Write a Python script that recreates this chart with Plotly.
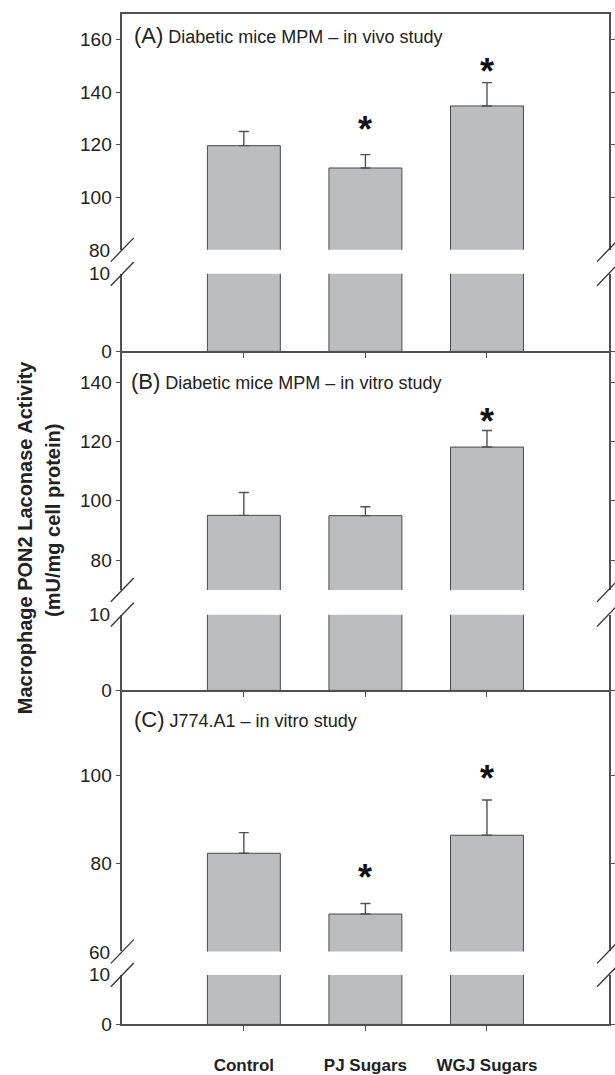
import plotly.graph_objects as go

# ---------------- data ----------------
categories = ["Control", "PJ Sugars", "WGJ Sugars"]

panel_titles = ["(A)", "(B)", "(C)"]
panel_texts = ["Diabetic mice MPM – in vivo study",
               "Diabetic mice MPM – in vitro study",
               "J774.A1 – in vitro study"]

means_A = [119.6, 111.1, 134.7]
errs_A = [5.4, 5.1, 8.9]
stars_A = [None, 128.7, 151.0]

means_B = [95.1, 95.0, 118.1]
errs_B = [7.7, 3.0, 5.6]
stars_B = [None, None, 129.4]

means_C = [82.3, 68.5, 86.4]
errs_C = [4.7, 2.4, 8.0]
stars_C = [None, 78.6, 101.1]

# axis ranges (upper segment / lower segment) and ticks
upper_ranges = [[80, 169.75], [70, 150.33], [60, 119.3]]
upper_ticks = [[100, 120, 140, 160], [80, 100, 120, 140], [80, 100]]
break_labels_upper = ["80", "", "60"]
lower_ranges = [[0, 10], [0, 10], [0, 10]]
lower_ticks = [[0], [0], [0]]
break_labels_lower = ["10", "10", "10"]

y_title_lines = ["Macrophage PON2 Laconase Activity", "(mU/mg cell protein)"]

# ---------------- layout geometry (pixels) ----------------
W, H = 615, 1075
X_LEFT, X_RIGHT = 122.7, 610.5
# (top, bottom) pixel rows of each segment
upper_px = [(14, 252.3), (355, 596), (697.5, 961.3)]
lower_px = [(276.7, 355), (621, 697.5), (985, 1035)]

FONT = "Liberation Sans, Arial, Helvetica, sans-serif"
AX_COL = "#505050"
BAR_FILL = "#bcbdc0"
BAR_LINE = "#4a4a4a"
TICK_SIZE = 19


def pdom(top, bottom):
    return [1 - bottom / H, 1 - top / H]


xdom = [X_LEFT / W, X_RIGHT / W]

fig = go.Figure()
means_all = [means_A, means_B, means_C]
errs_all = [errs_A, errs_B, errs_C]
stars_all = [stars_A, stars_B, stars_C]

layout = dict(
    width=W, height=H,
    margin=dict(l=0, r=0, t=0, b=0),
    paper_bgcolor="white", plot_bgcolor="rgba(0,0,0,0)",
    showlegend=False,
    font=dict(family=FONT, size=18, color="#222"),
)

annotations = []
shapes = []

for p in range(3):
    iu = 2 * p + 1
    il = 2 * p + 2
    xu = "x" if iu == 1 else f"x{iu}"
    yu = "y" if iu == 1 else f"y{iu}"
    xl = f"x{il}"
    yl = f"y{il}"

    # upper segment bars with error bars
    fig.add_trace(go.Bar(
        x=categories, y=means_all[p], xaxis=xu, yaxis=yu,
        marker=dict(color=BAR_FILL, line=dict(color=BAR_LINE, width=1)),
        error_y=dict(type="data", symmetric=False, array=errs_all[p],
                     arrayminus=[0] * 3, color=AX_COL, thickness=1.4, width=5),
        width=0.6,
    ))
    # lower segment bars
    fig.add_trace(go.Bar(
        x=categories, y=means_all[p], xaxis=xl, yaxis=yl,
        marker=dict(color=BAR_FILL, line=dict(color=BAR_LINE, width=1)),
        width=0.6,
    ))

    ut, ub = upper_px[p]
    lt, lb = lower_px[p]

    ykey_u = "yaxis" if iu == 1 else f"yaxis{iu}"
    xkey_u = "xaxis" if iu == 1 else f"xaxis{iu}"
    common_y = dict(ticks="outside", ticklen=5, tickwidth=1.2,
                    tickcolor=AX_COL, showline=True, linecolor=AX_COL,
                    linewidth=1.5, mirror="ticks", showgrid=False,
                    zeroline=False,
                    tickfont=dict(size=TICK_SIZE, color="#222"))
    layout[ykey_u] = dict(domain=pdom(ut, ub), range=upper_ranges[p],
                          anchor=xu, tickvals=upper_ticks[p], **common_y)
    layout[f"yaxis{il}"] = dict(domain=pdom(lt, lb), range=lower_ranges[p],
                                anchor=xl, tickvals=lower_ticks[p], **common_y)

    xu_ax = dict(domain=xdom, range=[-1, 3], anchor=yu, type="category",
                 showgrid=False, zeroline=False, showticklabels=False,
                 ticks="")
    if p == 0:
        xu_ax.update(showline=True, side="top", linecolor=AX_COL, linewidth=1.5)
    else:
        xu_ax.update(showline=False)
    layout[xkey_u] = xu_ax
    xl_ax = dict(domain=xdom, range=[-1, 3], anchor=yl, type="category",
                 showgrid=False, zeroline=False, showline=True,
                 linecolor=AX_COL, linewidth=1.5, ticks="outside", ticklen=5,
                 tickwidth=1.2, tickcolor=AX_COL,
                 showticklabels=(p == 2))
    if p == 2:
        xl_ax.update(tickfont=dict(size=17, color="#222",
                                   family=FONT, weight="bold"),
                     ticklabelstandoff=19)
    layout[f"xaxis{il}"] = xl_ax

    # break labels next to the break
    if break_labels_upper[p]:
        annotations.append(dict(
            xref="paper", yref="paper", x=X_LEFT / W, y=1 - ub / H,
            xanchor="right", yanchor="middle", xshift=-10, yshift=-1,
            text=break_labels_upper[p], showarrow=False,
            font=dict(size=TICK_SIZE, color="#222")))
    annotations.append(dict(
        xref="paper", yref="paper", x=X_LEFT / W, y=1 - lt / H,
        xanchor="right", yanchor="middle", xshift=-10,
        text=break_labels_lower[p], showarrow=False,
        font=dict(size=TICK_SIZE, color="#222")))

    # break slashes on left and right axes
    for xc in (X_LEFT, X_RIGHT):
        for yc in (ub, lt):
            shapes.append(dict(
                type="line", xref="paper", yref="paper",
                x0=(xc - 11.5) / W, y0=1 - (yc + 12) / H,
                x1=(xc + 11.5) / W, y1=1 - (yc - 12) / H,
                line=dict(color="#333", width=1.3)))

    # significance stars
    for ci, sy in enumerate(stars_all[p]):
        if sy is None:
            continue
        annotations.append(dict(
            xref=xu, yref=yu, x=categories[ci], y=sy,
            text="<b>*</b>", showarrow=False, yshift=-8,
            font=dict(size=36, color="#111")))

# panel titles
title_pos = [(132, 36), (129, 385), (132, 727)]
for p in range(3):
    tx, ty = title_pos[p]
    annotations.append(dict(
        xref="paper", yref="paper", x=tx / W, y=1 - ty / H,
        xanchor="left", yanchor="middle", showarrow=False,
        text=f"<span style='font-size:22px'>{panel_titles[p]}</span> {panel_texts[p]}",
        font=dict(size=18, color="#222")))

# y-axis title (two rotated lines)
title_line_pos = [(25, 362), (53, 426)]
for (lx, ltop), txt in zip(title_line_pos, y_title_lines):
    annotations.append(dict(
        xref="paper", yref="paper", x=lx / W, y=1 - ltop / H,
        xanchor="center", yanchor="top", textangle=-90, showarrow=False,
        text=f"<b>{txt}</b>", font=dict(size=20, color="#222")))

layout["annotations"] = annotations
layout["shapes"] = shapes
fig.update_layout(**layout)

fig.write_html("out.html")
